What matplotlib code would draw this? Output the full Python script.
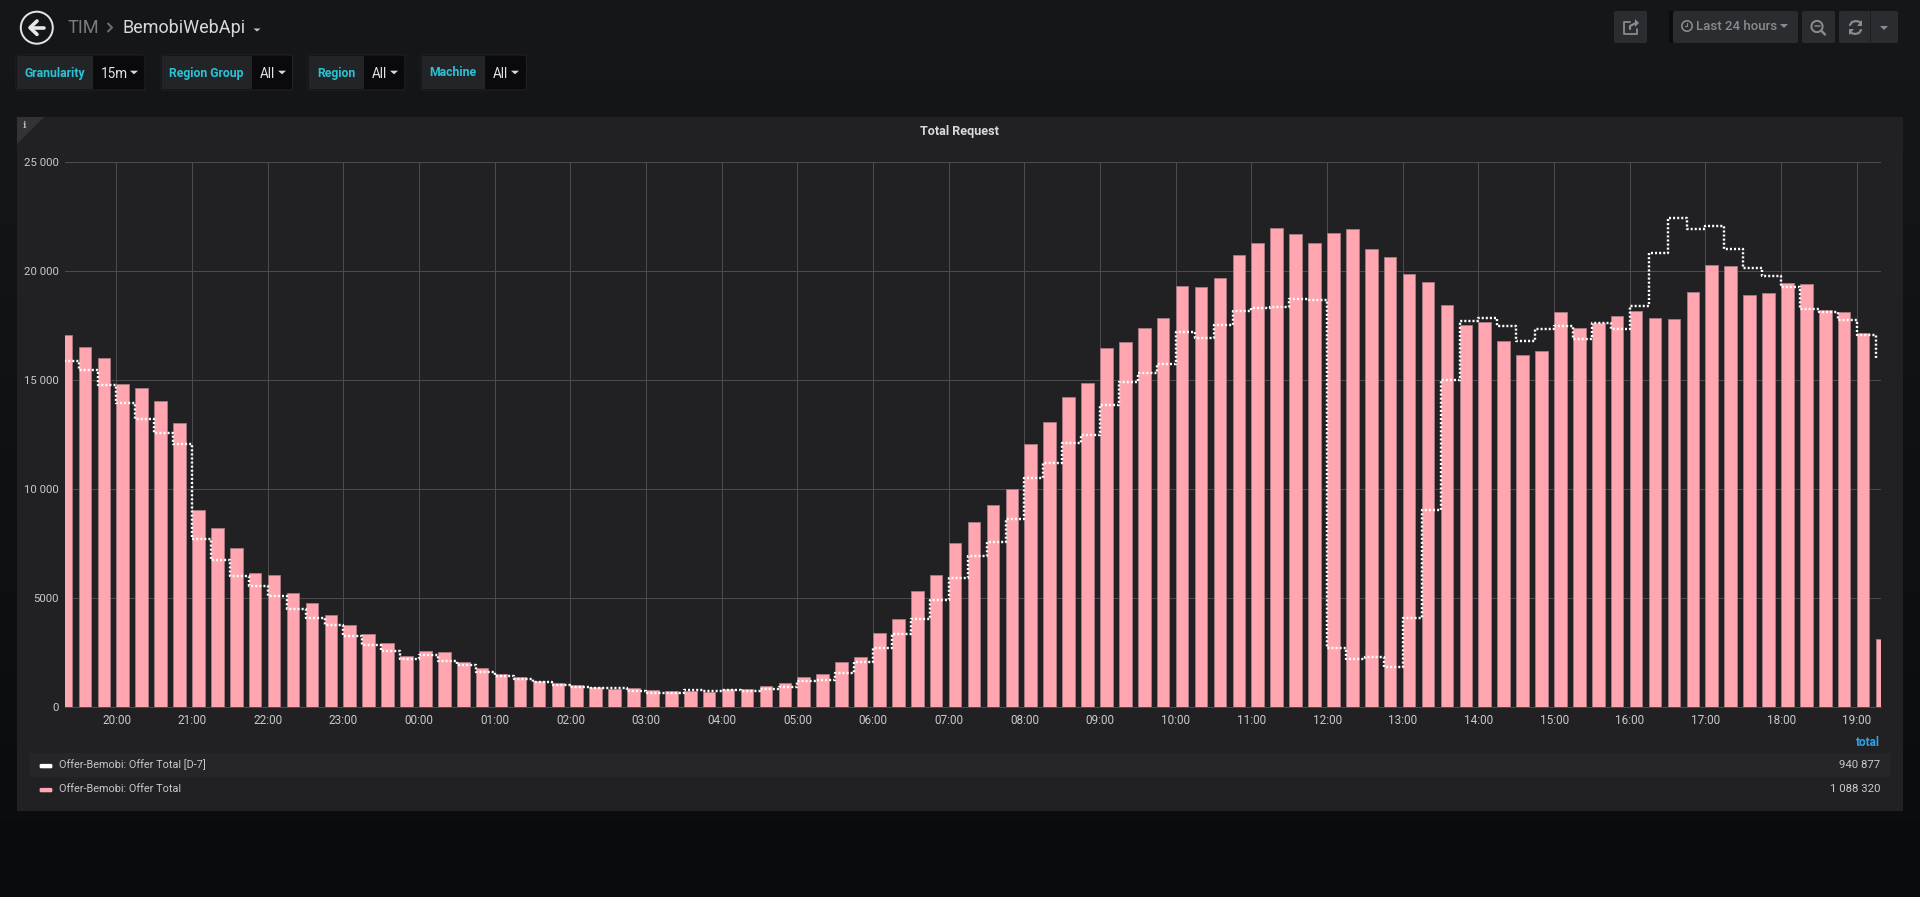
import numpy as np
import matplotlib
matplotlib.use("Agg")
import matplotlib.pyplot as plt
from matplotlib.patches import Rectangle, Polygon, Circle, FancyBboxPatch

# ---------- data ----------
total_values = [
    17050, 16500, 15990, 14800, 14620, 14020, 13010, 9050, 8210, 7280,
    6150, 6040, 5210, 4790, 4200, 3750, 3330, 2920, 2320, 2580,
    2540, 2060, 1770, 1530, 1360, 1180, 1100, 1010, 920, 840,
    860, 765, 730, 730, 690, 825, 825, 950, 1085, 1375,
    1500, 2060, 2290, 3410, 4030, 5320, 6040, 7510, 8500, 9250,
    9985, 12080, 13090, 14200, 14880, 16450, 16740, 17370, 17860, 19300,
    19250, 19660, 20720, 21270, 21960, 21680, 21300, 21730, 21930, 20990,
    20660, 19880, 19510, 18430, 17520, 17670, 16790, 16130, 16310, 18100,
    17380, 17600, 17930, 18180, 17830, 17780, 19020, 20260, 20210, 18880,
    18970, 19430, 19420, 18200, 18100, 17150, 3120]
d7_values = [
    15890, 15440, 14790, 13950, 13210, 12580, 12060, 7710, 6740, 6030,
    5550, 5090, 4500, 4070, 3780, 3260, 2860, 2570, 2190, 2370,
    2090, 1930, 1620, 1405, 1300, 1150, 990, 900, 870, 860,
    720, 630, 640, 795, 720, 780, 720, 840, 930, 1180,
    1220, 1540, 2050, 2690, 3370, 4015, 4905, 5920, 6930, 7570,
    8640, 10500, 11190, 12110, 12480, 13860, 14930, 15340, 15750, 17200,
    16910, 17520, 18160, 18300, 18330, 18710, 18670, 2720, 2200, 2290,
    1830, 4080, 9050, 15010, 17700, 17860, 17460, 16810, 17360, 17480,
    16870, 17620, 17340, 18380, 20810, 22420, 21940, 22050, 21010, 20150,
    19790, 19250, 18270, 18130, 17740, 17080, 15990]
hour_labels = ["20:00", "21:00", "22:00", "23:00", "00:00", "01:00", "02:00", "03:00",
               "04:00", "05:00", "06:00", "07:00", "08:00", "09:00", "10:00", "11:00",
               "12:00", "13:00", "14:00", "15:00", "16:00", "17:00", "18:00", "19:00"]
y_ticks = [0, 5000, 10000, 15000, 20000, 25000]
y_labels = ["0", "5000", "10 000", "15 000", "20 000", "25 000"]
series_names = ["Offer-Bemobi: Offer Total [D-7]", "Offer-Bemobi: Offer Total"]
series_totals = ["940 877", "1 088 320"]

W, H = 1920, 897
DPI = 100
px = 72 / DPI  # points per pixel
plt.rcParams['font.family'] = ['Roboto', 'DejaVu Sans']

fig = plt.figure(figsize=(W / DPI, H / DPI), dpi=DPI)

# ---------- page chrome, in pixel coordinates ----------
ui = fig.add_axes([0, 0, 1, 1], zorder=0)
ui.set_xlim(0, W)
ui.set_ylim(H, 0)
ui.axis("off")
top = np.array([0x16, 0x17, 0x19]) / 255
bot = np.array([0x0a, 0x0b, 0x0d]) / 255
frac = np.linspace(0, 1, 256)[:, None, None]
ui.imshow(top + (bot - top) * frac, extent=[0, W, H, 0], aspect="auto", zorder=0)
ui.set_xlim(0, W)
ui.set_ylim(H, 0)


def box(x0, y0, x1, y1, color, z=1, round_px=2, edge="none"):
    ui.add_patch(FancyBboxPatch((x0 + round_px, y0 + round_px),
                                x1 - x0 - 2 * round_px, y1 - y0 - 2 * round_px,
                                boxstyle=f"round,pad={round_px}", fc=color, ec=edge,
                                lw=0.7, zorder=z))


def txt(x, y, s, size, color, ha="left", weight="normal", z=5):
    ui.text(x, y, s, fontsize=size * px, color=color, ha=ha, va="center",
            fontweight=weight, zorder=z)


def caret(x, y, color, w=4.5, h=4):
    ui.add_patch(Polygon([(x - w, y - h / 2), (x + w, y - h / 2), (x, y + h / 2)],
                         closed=True, fc=color, ec="none", zorder=5))


def stroke(xs, ys, color, lw, z=5):
    ui.plot(xs, ys, color=color, lw=lw * px, solid_capstyle="round", zorder=z)


# back button
ui.add_patch(Circle((36.8, 27.7), 16, fc="none", ec="#e3e3e3", lw=2 * px, zorder=5))
stroke([31, 44], [27.7, 27.7], "#e8e8e8", 3.6)
stroke([37, 30, 37], [21, 27.7, 34.4], "#e8e8e8", 3.6)
txt(67, 28, "TIM", 18.2, "#7b7b7e")
stroke([108, 112, 108], [23.5, 27.5, 31.5], "#6e6e70", 2)
txt(123, 28, "BemobiWebApi", 18, "#d8d9da")
caret(257, 30, "#c8c8c8", 3.5, 3)

# template variables: label, x0, x_split, x1, label x, value, value x, caret x
variables = [
    ("Granularity", 16, 93, 145, 24.5, "15m", 101, 134),
    ("Region Group", 161, 252, 292.5, 168.8, "All", 259.6, 282),
    ("Region", 308, 363.6, 405, 317, "All", 372, 394),
    ("Machine", 421, 484.6, 526.4, 429, "All", 493, 515),
]
for name, x0, xs, x1, xt, val, xv, xc in variables:
    box(x0, 55, x1, 90, "#0a0a0c", z=1, edge="#232427")
    ui.add_patch(Rectangle((x0 + 1, 56), xs - x0 - 1, 33, fc="#232428", ec="none", zorder=2))
    txt(xt, 73, name, 12.2, "#2ac3d6", weight="bold")
    txt(xv, 73.5, val, 13.5, "#e3e3e3")
    caret(xc, 72.5, "#d8d9da", 4, 3.6)

# top-right buttons
BTN = "#2b2c2f"
ICON = "#8a8b8d"
box(1614, 11, 1647, 43, BTN)
ui.add_patch(Rectangle((1669, 11), 5, 32, fc="#0c0c0e", ec="none", zorder=1))
box(1673, 11, 1798, 43, BTN)
box(1802, 11, 1835, 43, BTN)
box(1839, 11, 1898, 43, BTN)
ui.plot([1870, 1870], [11, 43], color="#1d1e20", lw=1 * px, zorder=3)
# share icon
stroke([1630, 1624, 1624, 1637, 1637], [22, 22, 34, 34, 29], ICON, 1.8)
stroke([1630, 1630, 1636], [29, 26, 23], ICON, 2.2)
ui.add_patch(Polygon([(1635, 19), (1639, 23), (1635, 27)], fc=ICON, ec="none", zorder=5))
# clock + label
ui.add_patch(Circle((1687, 26), 5.2, fc="none", ec=ICON, lw=1.6 * px, zorder=5))
stroke([1687, 1687, 1684.5], [23, 26.5, 26.5], ICON, 1.1)
txt(1696, 27, "Last 24 hours", 13.3, ICON, weight="medium")
caret(1784, 26, ICON, 4, 4)
# zoom-out icon
ui.add_patch(Circle((1817, 26.5), 5.6, fc="none", ec=ICON, lw=2 * px, zorder=5))
stroke([1814.5, 1819.5], [26.5, 26.5], ICON, 1.5)
stroke([1821.5, 1825], [31, 34.5], ICON, 2.4)
# refresh icon
stroke([1850, 1852, 1856, 1860, 1861], [25, 22, 21, 22, 25], ICON, 2.2)
stroke([1850, 1851, 1855, 1859, 1861], [30, 33, 34, 33, 30], ICON, 2.2)
ui.add_patch(Polygon([(1862, 20), (1862, 26), (1857, 26)], fc=ICON, ec="none", zorder=5))
ui.add_patch(Polygon([(1849, 35), (1849, 29), (1854, 29)], fc=ICON, ec="none", zorder=5))
caret(1884, 28, ICON, 4, 4)

# panel
ui.add_patch(Rectangle((17, 117), 1886, 694, fc="#212124", ec="none", zorder=1))
ui.add_patch(Polygon([(17, 117), (44, 117), (17, 144)], fc="#333336", ec="none", zorder=2))
ui.text(24.5, 125, "i", fontsize=9 * px, color="#b8b8b8", ha="center", va="center",
        fontweight="bold", family="DejaVu Serif", zorder=5)
txt(959, 131, "Total Request", 12.6, "#d8d9da", ha="center", weight="bold")

# legend
txt(1880, 743, "total", 11.8, "#33a2e5", ha="right", weight="bold")
ui.add_patch(Rectangle((30, 753), 1860, 24, fc="#262628", ec="none", zorder=2))
for row_y, name, val, col in zip([765, 789], series_names, series_totals, ["#ffffff", "#ffa6b0"]):
    ui.add_patch(FancyBboxPatch((41, row_y + 0.3), 10, 1.6, boxstyle="round,pad=1.4",
                                fc=col, ec="none", zorder=5))
    txt(59, row_y, name, 10.9, "#c8c9ca")
    txt(1880, row_y, val, 11.4, "#c8c9ca", ha="right")

# ---------- chart ----------
L, R, T, B = 65, 1881, 162, 707
ax = fig.add_axes([L / W, 1 - B / H, (R - L) / W, (B - T) / H], zorder=2)
ax.patch.set_alpha(0)

x_hours = np.arange(len(total_values)) * 0.25   # hours since 19:15
ax.set_xlim(0.07, 24.07)
ax.set_ylim(0, 25000)

GRID = "#4c4c4f"
ax.bar(x_hours, total_values, width=1 / 6, align="edge", color="#ffa6b0",
       edgecolor="#a87a83", linewidth=0.6, zorder=2)
ax.step(x_hours, d7_values, where="post", color="#ffffff", lw=2.4 * px,
        linestyle=(0, (0.85, 0.85)), dash_capstyle="butt", zorder=3)

ax.set_xticks(0.75 + np.arange(len(hour_labels)))
ax.set_xticklabels(hour_labels)
ax.set_yticks(y_ticks)
ax.set_yticklabels(y_labels)
ax.grid(True, color=GRID, lw=1 * px, zorder=1)
ax.set_axisbelow(True)
ax.tick_params(axis="x", length=0, pad=5.3, labelsize=11.8 * px, labelcolor="#c8c9ca")
ax.tick_params(axis="y", length=0, pad=4.4, labelsize=11.4 * px, labelcolor="#c8c9ca")
for side in ("top", "right", "left"):
    ax.spines[side].set_visible(False)
ax.spines["bottom"].set_color(GRID)
ax.spines["bottom"].set_linewidth(1 * px)

fig.savefig("out.png", dpi=DPI)
